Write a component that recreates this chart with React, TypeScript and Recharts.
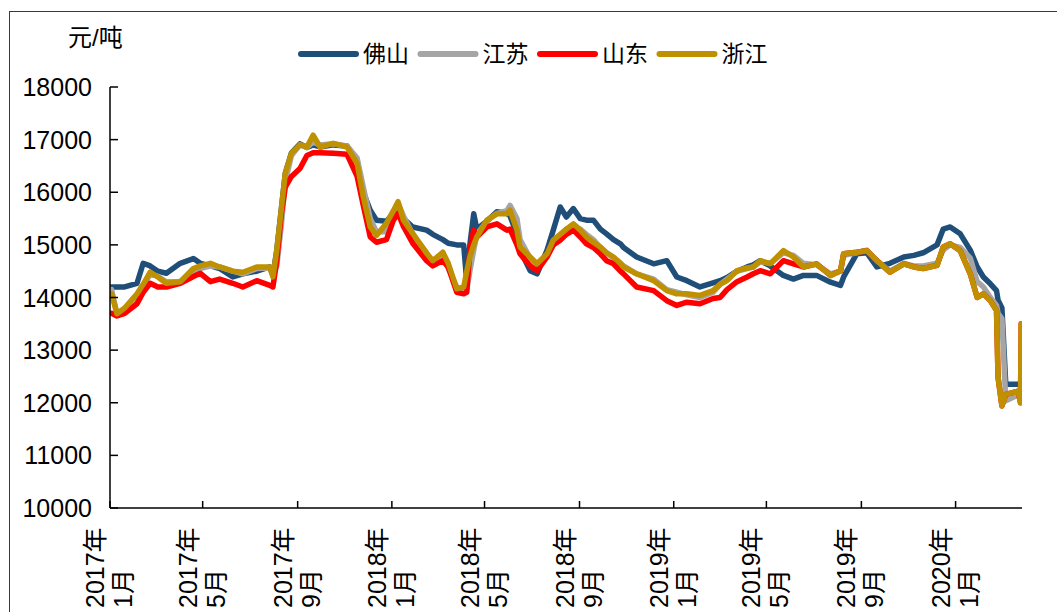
import React from 'react';
import { LineChart, Line, XAxis, YAxis } from 'recharts';

const dates = [
  '2017-01-03','2017-01-10','2017-01-20','2017-02-05','2017-02-13','2017-02-22','2017-03-04','2017-03-15',
  '2017-04-02','2017-04-19','2017-04-28','2017-05-11','2017-05-23','2017-06-09','2017-06-22','2017-07-10',
  '2017-07-27','2017-07-31','2017-08-05','2017-08-11','2017-08-16','2017-08-24','2017-09-04','2017-09-13',
  '2017-09-21','2017-09-30','2017-10-17','2017-11-04','2017-11-17','2017-11-25','2017-12-04','2017-12-12',
  '2017-12-25','2018-01-03','2018-01-09','2018-01-16','2018-01-28','2018-02-15','2018-02-23','2018-03-08',
  '2018-03-15','2018-03-26','2018-04-04','2018-04-08','2018-04-12','2018-04-17','2018-04-21','2018-05-04',
  '2018-05-17','2018-05-30','2018-06-03','2018-06-12','2018-06-16','2018-06-29','2018-07-08','2018-07-21',
  '2018-07-29','2018-08-07','2018-08-15','2018-08-24','2018-09-02','2018-09-10','2018-09-19','2018-09-28',
  '2018-10-06','2018-10-15','2018-10-24','2018-10-28','2018-11-14','2018-12-06','2018-12-23','2019-01-05',
  '2019-01-18','2019-02-04','2019-02-21','2019-03-02','2019-03-11','2019-03-24','2019-04-06','2019-04-14',
  '2019-04-23','2019-05-06','2019-05-23','2019-06-05','2019-06-18','2019-07-05','2019-07-23','2019-08-05',
  '2019-08-09','2019-08-26','2019-09-08','2019-09-21','2019-10-08','2019-10-26','2019-11-08','2019-11-20',
  '2019-12-08','2019-12-16','2019-12-25','2020-01-07','2020-01-20','2020-01-29','2020-02-06','2020-02-15',
  '2020-02-23','2020-02-25','2020-03-01','2020-03-06','2020-03-22','2020-03-25','2020-03-26',
];

const foshan = [
  14200,14200,14200,14270,14650,14600,14500,14460,14650,14740,14650,14600,14550,14390,14450,14500,
  14580,14420,14900,15700,16360,16750,16920,16850,16900,16860,16900,16880,16600,16000,15660,15470,
  15450,15600,15750,15500,15340,15280,15200,15100,15030,15000,15000,14300,15000,15590,15300,15450,
  15630,15600,15550,15200,14900,14510,14450,14900,15280,15720,15530,15690,15500,15470,15470,15300,
  15210,15100,15020,14950,14770,14640,14700,14390,14320,14200,14280,14320,14380,14500,14580,14620,
  14700,14600,14420,14350,14420,14420,14290,14230,14390,14830,14850,14580,14650,14770,14800,14850,
  15000,15300,15340,15210,14900,14580,14390,14260,14130,13950,13800,12350,12350,12350,12350,
];

const jiangsu = [
  14150,13700,13750,14000,14200,14450,14400,14300,14300,14500,14550,14600,14580,14500,14450,14550,
  14560,14420,14600,15400,16200,16700,16900,16850,16950,16900,16920,16880,16650,16100,15500,15250,
  15250,15600,15800,15550,15200,14850,14650,14850,14550,14200,14100,14150,14500,14900,15200,15450,
  15600,15650,15750,15500,15100,14750,14550,14800,15000,15150,15300,15350,15300,15200,15100,14950,
  14850,14750,14650,14600,14450,14350,14150,14100,14050,14000,14100,14250,14350,14500,14550,14580,
  14680,14650,14850,14800,14650,14620,14450,14500,14800,14850,14900,14700,14500,14650,14600,14600,
  14650,14900,15000,14950,14750,14300,14200,14000,13850,13700,13600,12040,12150,12200,12200,
];

const shandong = [
  13700,13650,13700,13880,14100,14270,14200,14200,14270,14400,14460,14300,14350,14270,14200,14320,
  14230,14200,14700,15600,16100,16300,16450,16700,16750,16750,16740,16720,16300,15750,15150,15050,
  15100,15470,15600,15350,15030,14700,14600,14700,14580,14100,14070,14100,14900,15280,15150,15340,
  15400,15280,15300,15000,14830,14600,14510,14770,15000,15090,15200,15280,15150,15020,14950,14830,
  14700,14640,14500,14450,14200,14130,13940,13850,13910,13880,13980,14000,14150,14300,14390,14450,
  14510,14450,14700,14640,14580,14640,14420,14510,14830,14860,14890,14700,14480,14640,14580,14550,
  14610,14960,15020,14890,14450,14000,14070,13940,13750,12480,11940,12160,12220,12000,13500,
];

const zhejiang = [
  14070,13690,13800,14070,14250,14480,14390,14270,14300,14550,14600,14650,14580,14500,14480,14580,
  14580,14390,14900,15700,16360,16740,16900,16860,17085,16860,16930,16860,16550,15910,15340,15180,
  15410,15650,15820,15470,15220,14840,14700,14860,14650,14165,14200,14500,14770,15000,15150,15470,
  15590,15590,15660,15280,14960,14770,14640,14830,15090,15200,15300,15400,15280,15150,15050,14960,
  14850,14770,14650,14580,14450,14320,14130,14070,14070,14040,14130,14250,14320,14510,14560,14580,
  14700,14640,14890,14770,14580,14640,14420,14510,14830,14860,14890,14700,14480,14640,14580,14550,
  14610,14960,15020,14890,14450,14000,14070,13940,13750,12480,11940,12160,12220,12000,13500,
];

const seriesNames = ['佛山', '江苏', '山东', '浙江'];
const seriesKeys = ['foshan', 'jiangsu', 'shandong', 'zhejiang'];
const seriesColors = ['#1F4E79', '#A5A5A5', '#FF0000', '#BF9000'];
const seriesValues = [foshan, jiangsu, shandong, zhejiang];

const yTicks = [10000, 11000, 12000, 13000, 14000, 15000, 16000, 17000, 18000];
const xTickDates = [
  '2017-01-01', '2017-05-01', '2017-09-01', '2018-01-01', '2018-05-01',
  '2018-09-01', '2019-01-01', '2019-05-01', '2019-09-01', '2020-01-01',
];
const axisStartDate = '2017-01-01';
const axisEndDate = '2020-03-27';
const unitLabel = '元/吨';

const DAY_MS = 86400000;
const ORIGIN = Date.parse(axisStartDate + 'T00:00:00Z');
const toDay = (s: string) => Math.round((Date.parse(s + 'T00:00:00Z') - ORIGIN) / DAY_MS);

const rows = dates.map((d, i) => {
  const r: Record<string, number> = { day: toDay(d) };
  seriesKeys.forEach((k, j) => {
    r[k] = seriesValues[j][i];
  });
  return r;
});

const xTicks = xTickDates.map(toDay);
const xLabels: Record<number, [string, string]> = {};
xTickDates.forEach((d) => {
  const [y, m] = d.split('-');
  xLabels[toDay(d)] = [`${y}年`, `${parseInt(m, 10)}月`];
});

const FONT = '"Liberation Sans", Arial, "Noto Sans CJK SC", sans-serif';

const XTick = (props: any) => {
  const { x, y, payload } = props;
  const lab = xLabels[payload.value] || ['', ''];
  return (
    <g>
      <line x1={x} x2={x} y1={y} y2={y - 7} stroke="#000" strokeWidth={1.5} />
      <g transform={`translate(${x},${y + 100}) rotate(-90)`}>
        <text x={0} y={-15} dominantBaseline="central" textAnchor="start" fontSize={25} fill="#000" fontFamily={FONT}>
          {lab[0]}
        </text>
        <text x={0} y={13} dominantBaseline="central" textAnchor="start" fontSize={25} fill="#000" fontFamily={FONT}>
          {lab[1]}
        </text>
      </g>
    </g>
  );
};

const YTick = (props: any) => {
  const { x, y, payload } = props;
  return (
    <g>
      <line x1={x + 18} x2={x + 26} y1={y} y2={y} stroke="#000" strokeWidth={1.5} />
      <text x={x} y={y} textAnchor="end" dominantBaseline="central" fontSize={25} fill="#000" fontFamily={FONT}>
        {payload.value}
      </text>
    </g>
  );
};

const LEGEND_START = 301;
const LEGEND_STEP = 119.5;
const LEGEND_LINE = 55;

export default function App() {
  return (
    <div style={{ position: 'absolute', left: 0, top: 0, width: 1057, height: 612, overflow: 'hidden', background: '#fff' }}>
      <div
        style={{
          position: 'absolute', left: 9, top: 11, width: 1100, height: 700,
          borderLeft: '1.5px solid #3a3a3a', borderTop: '1.5px solid #3a3a3a',
        }}
      />
      <div style={{ position: 'absolute', left: 0, top: 0 }}>
        <LineChart width={1057} height={612} data={rows} margin={{ top: 87, right: 35, bottom: 4, left: 10 }}>
          <XAxis
            dataKey="day"
            type="number"
            domain={[0, toDay(axisEndDate)]}
            ticks={xTicks}
            interval={0}
            height={100}
            tickSize={0}
            tickMargin={0}
            tickLine={false}
            axisLine={{ stroke: '#000', strokeWidth: 1.5 }}
            tick={<XTick />}
            allowDataOverflow
          />
          <YAxis
            type="number"
            domain={[10000, 18000]}
            ticks={yTicks}
            interval={0}
            width={100}
            tickSize={0}
            tickMargin={18}
            tickLine={false}
            axisLine={{ stroke: '#000', strokeWidth: 1.5 }}
            tick={<YTick />}
            allowDataOverflow
          />
          {seriesKeys.map((k, i) => (
            <Line
              key={k}
              type="linear"
              dataKey={k}
              name={seriesNames[i]}
              stroke={seriesColors[i]}
              strokeWidth={5.5}
              strokeLinejoin="round"
              strokeLinecap="round"
              dot={false}
              activeDot={false}
              isAnimationActive={false}
            />
          ))}
        </LineChart>
      </div>
      <svg width={1057} height={612} style={{ position: 'absolute', left: 0, top: 0, pointerEvents: 'none' }}>
        <text x={68} y={37} dominantBaseline="central" fontSize={24} fill="#000" fontFamily={FONT}>
          {unitLabel}
        </text>
        {seriesNames.map((n, i) => {
          const x0 = LEGEND_START + i * LEGEND_STEP;
          return (
            <g key={n}>
              <line x1={x0} x2={x0 + LEGEND_LINE} y1={54} y2={54} stroke={seriesColors[i]} strokeWidth={6} strokeLinecap="round" />
              <text x={x0 + LEGEND_LINE + 7} y={54} dominantBaseline="central" fontSize={23} fill="#000" fontFamily={FONT}>
                {n}
              </text>
            </g>
          );
        })}
      </svg>
    </div>
  );
}
